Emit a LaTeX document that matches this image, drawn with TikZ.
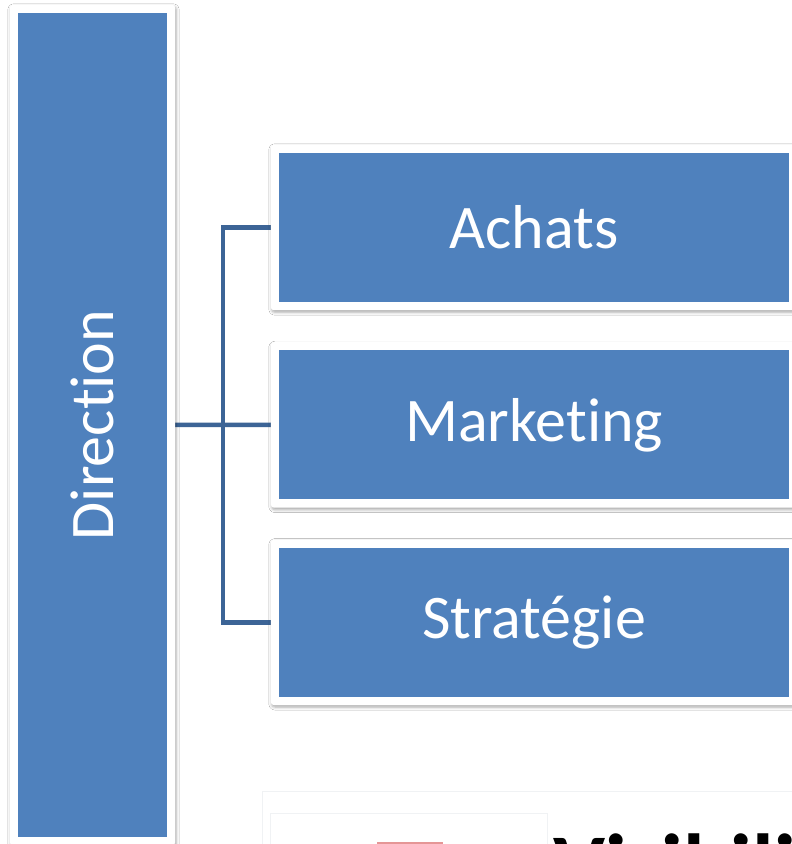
\documentclass[tikz,border=0pt]{standalone}
\usepackage{fontspec}
\setmainfont{Carlito}[Ligatures=NoCommon]
\usepackage{graphicx}
\usepackage{tikz}
\usetikzlibrary{positioning}
\usetikzlibrary{fit}
\usetikzlibrary{calc}
\usetikzlibrary{backgrounds}
\usetikzlibrary{shadows.blur}
\definecolor{bleuboite}{RGB}{79,129,189}
\definecolor{bleulien}{RGB}{60,100,150}
\definecolor{roseicone}{RGB}{229,150,150}
\definecolor{grisclair}{RGB}{240,242,244}

\begin{document}
\begin{tikzpicture}[x=1pt, y=-1pt,
                          boite/.style={rectangle, fill=bleuboite, text=white, inner sep=0pt, font=\fontsize{62}{74}\selectfont},
                          service/.style={boite, minimum width=510pt, minimum height=149pt},
                          cadre/.style={rectangle, fill=white, rounded corners=3pt, inner sep=8pt,
                                        blur shadow={shadow xshift=1pt, shadow yshift=-2pt, shadow blur radius=3pt, shadow opacity=35}},
                          lien/.style={draw=bleulien, line width=4.5pt},
                      ]
                      \path[use as bounding box, clip] (0,0) rectangle (792,844);
                      % Nodes
                      \node[boite, minimum width=149pt, minimum height=824pt] (direction) at (92.5,425) {\rotatebox{90}{Direction}};
                      \node[service]          (achats)      at (534,227.5)              {Achats};
                      \node[service]          (marketing)   [below=48pt of achats]      {Marketing};
                      \node[service]          (strategie)   [below=48pt of marketing]   {Stratégie};
                      \coordinate (jonction) at ($(direction.east)!0.5!(marketing.west)$);

                      % Next block, cut at the bottom
                      \draw[grisclair] (262,791) rectangle (810,870);
                      \draw[grisclair, fill=white] (270,813) rectangle (547,870);
                      \fill[roseicone] (377,842) rectangle (443,870);
                      \node[anchor=base west, inner sep=0pt, font=\fontsize{88}{100}\selectfont\bfseries] (visibilite) at (553,895) {Visibilité};

                      \begin{scope}[on background layer]
                        \clip (0,0) rectangle (792,844);
                        \fill[white] (0,0) rectangle (792,844);
                        %Lines
                        \draw[lien] (direction.east) -- (marketing.west);
                        \draw[lien] (achats.west) -| (jonction) |- (strategie.west);
                        %Frames
                        \node[cadre, fit=(direction)] (cadre_direction) {};
                        \node[cadre, fit=(achats)]    (cadre_achats)    {};
                        \node[cadre, fit=(marketing)] (cadre_marketing) {};
                        \node[cadre, fit=(strategie)] (cadre_strategie) {};
                      \end{scope}
                  \end{tikzpicture}
\end{document}
